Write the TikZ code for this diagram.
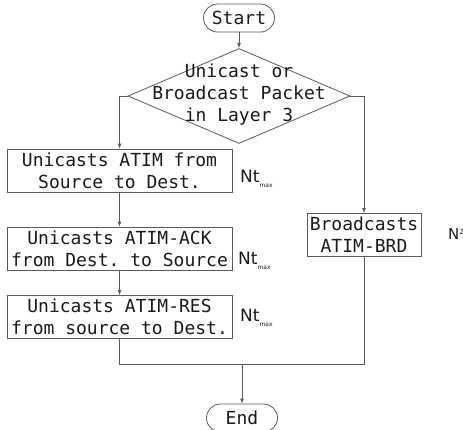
\documentclass[tikz,border=0pt]{standalone}
\usepackage{fontspec}
\setmonofont{DejaVu Sans Mono}
\newfontfamily\labfont{DejaVu Sans}
\usetikzlibrary{shapes.geometric,arrows.meta}
\definecolor{linegray}{HTML}{5A5A5A}
\definecolor{txt}{HTML}{1A1A1A}
\begin{document}
\begin{tikzpicture}[x=1pt,y=-1pt,
  line/.style={draw=linegray, line width=0.8pt},
  arr/.style={line, -{Latex[length=5pt,width=4pt]}},
  mono/.style={font=\ttfamily\fontsize{18}{22}\selectfont, text=txt},
  proc/.style={mono, draw=linegray, line width=0.8pt, minimum height=43pt, inner sep=0pt, align=center},
  term/.style={mono, draw=linegray, line width=0.8pt, rounded corners=14pt, minimum width=71pt, minimum height=28pt, inner sep=0pt},
  dec/.style={diamond, draw=linegray, line width=0.8pt, minimum width=222pt, minimum height=95pt, inner sep=0pt},
  cost/.style={anchor=base west, inner sep=0pt, text=txt, font=\labfont\fontsize{17}{17}\selectfont}
]
\useasboundingbox (0,0) rectangle (463,429);
\clip (0,0) rectangle (463,429);

\node[term] (start) at (239,18) {Start};
\node[dec] (dec) at (239,96) {};
\node[mono, align=center, inner sep=0pt] (dectext) at (239,95) {Unicast or\\Broadcast Packet\\in Layer 3};

\node[proc, minimum width=225pt] (b1) at (119.5,170.5) {Unicasts ATIM from\\Source to Dest.};
\node[proc, minimum width=225pt] (b2) at (119.5,248.5) {Unicasts ATIM-ACK\\from Dest. to Source};
\node[proc, minimum width=225pt] (b3) at (119.5,317) {Unicasts ATIM-RES\\from source to Dest.};
\node[proc, minimum width=114pt] (bb) at (364,235) {Broadcasts\\ATIM-BRD};

\node[cost] (c1) at (240,182) {Nt\raisebox{-5pt}{\fontsize{6}{6}\selectfont max}};
\node[cost] (c2) at (238,264) {Nt\raisebox{-5pt}{\fontsize{6}{6}\selectfont max}};
\node[cost] (c3) at (240,321) {Nt\raisebox{-5pt}{\fontsize{6}{6}\selectfont max}};
\node[cost, font=\labfont\fontsize{15}{15}\selectfont] (c4) at (448,239) {N\raisebox{5pt}{\fontsize{7}{7}\selectfont 2}};

\node[term] (end) at (242,418) {End};
\coordinate (join) at (242,364);

\draw[arr] (start) -- (dec);
\draw[arr] (dec.west) -| (b1.north);
\draw[arr] (dec.east) -| (bb.north);
\draw[arr] (b1) -- (b2);
\draw[arr] (b2) -- (b3);
\draw[line] (b3.south) |- (join);
\draw[line] (bb.south) |- (join);
\draw[arr] (join) -- (end.north);
\end{tikzpicture}
\end{document}
